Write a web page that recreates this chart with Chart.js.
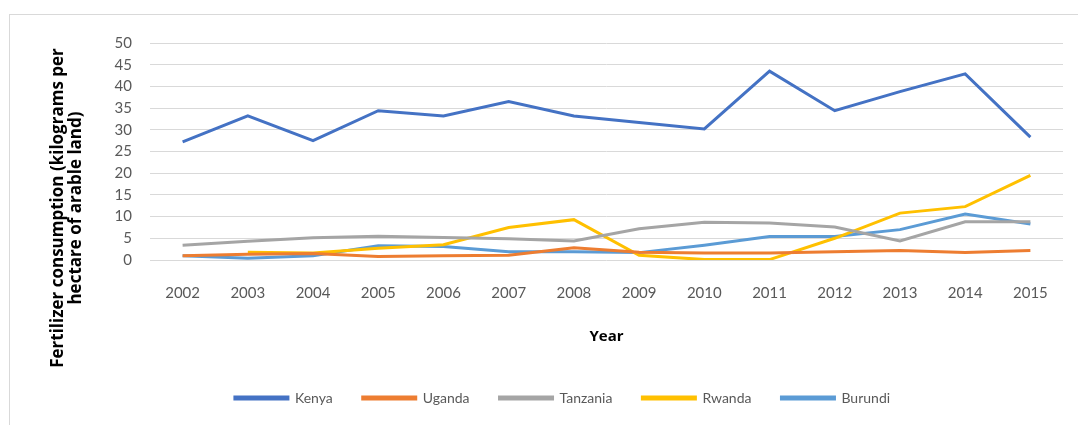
<!DOCTYPE html>
<html>
<head>
<meta charset="utf-8">
<script src="https://cdn.jsdelivr.net/npm/chart.js@4/dist/chart.umd.min.js"></script>
<style>
  html, body { margin: 0; padding: 0; background: #fff; }
  #wrap { position: relative; width: 1078px; height: 425px; }
  #frame { position: absolute; left: 9px; top: 14px; right: -2px; bottom: -2px;
           border-top: 1px solid #d9d9d9; border-left: 1px solid #d9d9d9; }
  canvas { position: absolute; left: 0; top: 0; }
</style>
</head>
<body>
<div id="wrap">
  <div id="frame"></div>
  <canvas id="chart" width="1078" height="425"></canvas>
</div>
<script>
// years on the x axis
const years = ['2002','2003','2004','2005','2006','2007','2008','2009','2010','2011','2012','2013','2014','2015'];

// fertilizer consumption, kg per hectare of arable land
const kenya    = [27.2, 33.2, 27.5, 34.4, 33.2, 36.5, 33.2, 31.7, 30.2, 43.5, 34.4, 38.8, 42.9, 28.3];
const uganda   = [1.0, 1.3, 1.5, 0.8, 1.0, 1.1, 2.8, 1.8, 1.6, 1.6, 1.9, 2.2, 1.7, 2.2];
const tanzania = [3.4, 4.3, 5.1, 5.5, 5.2, 4.9, 4.4, 7.2, 8.7, 8.5, 7.6, 4.4, 8.8, 8.8];
const rwanda   = [null, 1.8, 1.6, 2.7, 3.5, 7.5, 9.3, 1.1, 0.1, 0.1, 5.0, 10.8, 12.3, 19.5];
const burundi  = [1.0, 0.4, 1.0, 3.3, 3.1, 1.9, 1.9, 1.7, 3.4, 5.4, 5.4, 7.0, 10.6, 8.3];

const yTitle = ['Fertilizer consumption (kilograms per', 'hectare of arable land)'];

const font = "Lato, 'Open Sans', sans-serif";
const boldFont = "'Open Sans', Lato, sans-serif";

function line(label, values, color) {
  return {
    label: label,
    data: values,
    borderColor: color,
    backgroundColor: color,
    borderWidth: 3,
    pointRadius: 0,
    tension: 0,
    fill: false
  };
}

// the y title in the original is not centred on the axis, so draw it by hand
const yTitlePlugin = {
  id: 'yTitle',
  afterDraw(chart) {
    const c = chart.ctx;
    c.save();
    c.translate(67, 208);
    c.rotate(-Math.PI / 2);
    c.font = "bold 17px " + boldFont;
    c.fillStyle = '#000';
    c.textAlign = 'center';
    c.textBaseline = 'middle';
    c.fillText(yTitle[0], 0, -9);
    c.fillText(yTitle[1], 0, 9);
    c.restore();
  }
};

const ctx = document.getElementById('chart').getContext('2d');
new Chart(ctx, {
  type: 'line',
  data: {
    labels: years,
    datasets: [
      line('Kenya', kenya, '#4472C4'),
      line('Uganda', uganda, '#ED7D31'),
      line('Tanzania', tanzania, '#A5A5A5'),
      line('Rwanda', rwanda, '#FFC000'),
      line('Burundi', burundi, '#5B9BD5')
    ]
  },
  plugins: [yTitlePlugin],
  options: {
    responsive: false,
    animation: false,
    layout: { padding: { left: 62, right: 15, top: 43, bottom: 10 } },
    plugins: {
      tooltip: { enabled: false },
      legend: {
        position: 'bottom',
        labels: {
          boxWidth: 53,
          boxHeight: 2,
          padding: 30,
          color: '#595959',
          font: { family: font, size: 14 }
        }
      }
    },
    scales: {
      x: {
        offset: true,
        grid: { display: false },
        border: { display: false },
        ticks: { color: '#595959', font: { family: font, size: 15 }, padding: 16, maxRotation: 0 },
        title: {
          display: true,
          text: 'Year',
          color: '#000',
          font: { family: boldFont, size: 15, weight: 'bold' },
          padding: { top: 4, bottom: 15 }
        },
        afterFit: s => { s.height = 101; }
      },
      y: {
        min: 0,
        max: 50,
        grid: { color: '#d9d9d9', lineWidth: 1, drawTicks: false },
        border: { display: false },
        ticks: { stepSize: 5, color: '#595959', font: { family: font, size: 15 }, padding: 18 },
        afterFit: s => { s.width = 88; }
      }
    }
  }
});
</script>
</body>
</html>
